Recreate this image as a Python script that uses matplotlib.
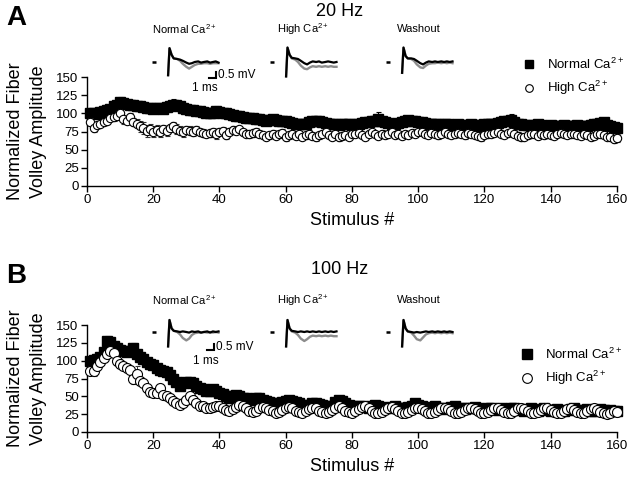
import numpy as np
import matplotlib
matplotlib.use("Agg")
import matplotlib.pyplot as plt
from matplotlib.lines import Line2D

plt.rcParams["font.family"] = ["Liberation Sans", "DejaVu Sans"]
plt.rcParams["mathtext.fontset"] = "custom"
plt.rcParams["mathtext.rm"] = "Liberation Sans"
plt.rcParams["mathtext.it"] = "Liberation Sans:italic"

# ---- data: normalized fiber volley amplitude, stimulus 1..160 ----
stim = np.arange(1, 161)

a_normal = [
    100, 101, 99, 102, 103, 104, 106, 110, 112, 115, 114, 113, 112, 111, 110, 110,
    109, 108, 107, 106, 107, 108, 106, 109, 110, 112, 111, 110, 108, 106, 105, 104,
    103, 103, 102, 101, 100, 100, 103, 102, 101, 100, 99, 98, 97, 96, 95, 94,
    94, 93, 92, 92, 91, 90, 91, 92, 91, 90, 90, 89, 88, 87, 86, 86,
    85, 86, 88, 89, 90, 89, 88, 87, 86, 86, 85, 84, 85, 86, 85, 84,
    85, 86, 87, 88, 88, 89, 90, 92, 89, 88, 87, 86, 86, 87, 88, 90,
    91, 90, 89, 88, 88, 87, 86, 86, 85, 85, 84, 85, 85, 84, 84, 85,
    84, 83, 84, 85, 84, 83, 84, 85, 86, 85, 86, 87, 88, 89, 90, 91,
    88, 86, 85, 84, 84, 83, 84, 85, 84, 83, 83, 84, 83, 82, 83, 84,
    83, 82, 83, 84, 83, 82, 83, 84, 85, 86, 87, 88, 84, 82, 81, 80]
a_normal_err = [
    3, 3, 3, 3, 3, 4, 4, 5, 5, 8, 5, 4, 4, 3, 3, 3,
    3, 3, 3, 3, 3, 3, 3, 4, 5, 8, 6, 4, 3, 3, 3, 3,
    3, 3, 3, 3, 3, 4, 7, 5, 3, 3, 3, 3, 3, 3, 3, 3,
    3, 3, 3, 3, 3, 3, 3, 4, 5, 3, 3, 3, 3, 3, 3, 3,
    3, 3, 3, 3, 4, 3, 3, 3, 3, 3, 3, 3, 3, 3, 3, 3,
    3, 3, 3, 3, 3, 4, 5, 10, 4, 3, 3, 3, 3, 3, 3, 4,
    3, 3, 3, 3, 3, 3, 3, 3, 3, 3, 3, 3, 3, 3, 3, 3,
    3, 3, 3, 3, 3, 3, 3, 3, 3, 3, 3, 4, 5, 4, 6, 8,
    4, 3, 3, 3, 3, 3, 3, 3, 3, 3, 3, 3, 3, 3, 3, 3,
    3, 3, 3, 3, 3, 3, 3, 3, 3, 4, 5, 6, 4, 3, 3, 3]

a_high = [
    88, 80, 84, 86, 88, 90, 93, 95, 97, 100, 92, 90, 95, 88, 86, 82,
    80, 76, 78, 75, 77, 74, 78, 76, 80, 82, 78, 76, 74, 77, 76, 75,
    77, 74, 73, 72, 73, 74, 71, 75, 76, 70, 75, 77, 76, 78, 74, 72,
    71, 73, 75, 72, 70, 68, 70, 72, 69, 71, 73, 68, 70, 72, 69, 71,
    68, 70, 72, 69, 67, 70, 72, 74, 70, 68, 71, 67, 69, 70, 68, 72,
    71, 73, 70, 68, 72, 74, 71, 69, 72, 70, 72, 74, 70, 71, 69, 72,
    70, 73, 71, 75, 74, 72, 70, 73, 71, 70, 72, 74, 71, 70, 72, 73,
    71, 70, 73, 72, 70, 69, 67, 70, 71, 72, 73, 74, 72, 70, 73, 75,
    72, 69, 67, 68, 70, 72, 71, 69, 71, 70, 72, 70, 69, 71, 73, 72,
    70, 71, 72, 70, 69, 71, 70, 68, 69, 71, 72, 70, 68, 67, 64, 66]
a_high_err = [
    5, 5, 4, 4, 4, 4, 4, 5, 5, 5, 6, 5, 5, 6, 6, 7,
    8, 8, 7, 8, 7, 6, 6, 7, 6, 6, 7, 6, 6, 6, 6, 6,
    6, 5, 5, 5, 6, 6, 6, 5, 5, 5, 5, 5, 5, 4, 5, 5,
    5, 5, 5, 5, 5, 5, 5, 5, 5, 5, 5, 6, 5, 5, 5, 5,
    5, 5, 5, 5, 5, 5, 5, 5, 4, 4, 5, 5, 5, 5, 4, 4,
    4, 4, 4, 5, 5, 4, 4, 5, 5, 4, 4, 4, 4, 4, 5, 4,
    4, 4, 4, 4, 4, 4, 4, 4, 4, 5, 4, 4, 4, 4, 4, 4,
    4, 5, 4, 4, 4, 5, 5, 4, 4, 4, 4, 4, 4, 4, 4, 4,
    5, 5, 5, 4, 4, 4, 4, 4, 4, 4, 4, 4, 4, 4, 4, 4,
    4, 4, 4, 4, 4, 4, 4, 5, 5, 4, 4, 4, 4, 5, 5, 5]

b_normal = [
    100, 101, 103, 105, 112, 128, 126, 121, 118, 115, 113, 112, 114, 118, 110, 105,
    102, 98, 96, 94, 90, 87, 86, 84, 80, 75, 70, 65, 68, 70, 70, 68,
    65, 62, 60, 58, 57, 60, 58, 55, 53, 50, 48, 50, 52, 50, 48, 47,
    46, 45, 48, 47, 45, 44, 42, 40, 38, 40, 42, 44, 45, 44, 42, 40,
    38, 36, 38, 41, 40, 39, 38, 36, 35, 37, 42, 45, 44, 40, 38, 36,
    35, 36, 37, 35, 34, 36, 38, 37, 35, 34, 33, 35, 36, 34, 33, 34,
    35, 37, 40, 38, 36, 34, 33, 35, 36, 34, 33, 32, 34, 35, 36, 34,
    33, 32, 33, 34, 35, 33, 32, 31, 33, 34, 32, 31, 33, 32, 31, 33,
    34, 32, 31, 30, 32, 33, 31, 30, 32, 33, 31, 30, 31, 32, 30, 29,
    31, 32, 33, 31, 30, 31, 32, 30, 29, 31, 32, 31, 30, 31, 30, 30]
b_normal_err = [
    3, 3, 3, 3, 4, 6, 4, 3, 3, 3, 3, 3, 4, 7, 4, 3,
    3, 3, 3, 3, 3, 3, 3, 3, 3, 3, 3, 3, 3, 3, 3, 3,
    3, 3, 3, 3, 3, 3, 3, 3, 3, 3, 3, 3, 3, 3, 3, 3,
    3, 3, 3, 3, 3, 3, 3, 3, 3, 3, 3, 3, 3, 3, 3, 3,
    3, 3, 3, 3, 3, 3, 3, 3, 3, 3, 3, 3, 3, 3, 3, 3,
    3, 3, 3, 3, 3, 3, 3, 3, 3, 3, 3, 3, 3, 3, 3, 3,
    3, 3, 3, 3, 3, 3, 3, 3, 3, 3, 3, 3, 3, 3, 3, 3,
    3, 3, 3, 3, 3, 3, 3, 3, 3, 3, 3, 3, 3, 3, 3, 3,
    3, 3, 3, 3, 3, 3, 3, 3, 3, 3, 3, 3, 3, 3, 3, 3,
    3, 3, 3, 3, 3, 3, 3, 3, 3, 3, 3, 3, 3, 3, 3, 3]

b_high = [
    86, 85, 92, 98, 104, 110, 114, 111, 100, 96, 92, 90, 87, 75, 82, 72,
    68, 61, 56, 55, 54, 61, 52, 50, 47, 43, 40, 38, 40, 45, 50, 45,
    40, 37, 36, 34, 33, 35, 37, 36, 34, 31, 30, 32, 35, 38, 36, 33,
    30, 28, 30, 33, 35, 34, 31, 29, 27, 28, 31, 33, 35, 33, 30, 28,
    27, 29, 32, 34, 33, 30, 28, 26, 28, 31, 34, 36, 33, 30, 28, 27,
    29, 32, 35, 36, 33, 30, 27, 26, 28, 31, 34, 35, 32, 29, 27, 26,
    28, 31, 33, 34, 32, 29, 27, 26, 28, 31, 33, 34, 32, 29, 27, 26,
    28, 31, 33, 34, 32, 29, 27, 26, 28, 31, 33, 34, 31, 28, 26, 27,
    30, 33, 34, 32, 29, 27, 26, 28, 31, 33, 34, 31, 28, 26, 27, 30,
    32, 33, 31, 28, 26, 27, 29, 32, 33, 31, 28, 26, 25, 27, 29, 28]
b_high_err = [
    6, 6, 5, 5, 4, 4, 4, 4, 4, 5, 5, 5, 6, 8, 10, 5,
    5, 5, 4, 4, 4, 6, 4, 4, 4, 4, 4, 4, 4, 4, 4, 4,
    4, 4, 4, 4, 4, 4, 4, 4, 4, 4, 4, 4, 4, 4, 4, 4,
    4, 4, 4, 4, 4, 4, 4, 4, 4, 4, 4, 4, 4, 4, 4, 4,
    4, 4, 4, 4, 4, 4, 4, 4, 4, 4, 4, 4, 4, 4, 4, 4,
    4, 4, 4, 4, 4, 4, 4, 4, 4, 4, 4, 4, 4, 4, 4, 4,
    4, 4, 4, 4, 4, 4, 4, 4, 4, 4, 4, 4, 4, 4, 4, 4,
    4, 4, 4, 4, 4, 4, 4, 4, 4, 4, 4, 4, 4, 4, 4, 4,
    4, 4, 4, 4, 4, 4, 4, 4, 4, 4, 4, 4, 4, 4, 4, 4,
    4, 4, 4, 4, 4, 4, 4, 4, 4, 4, 4, 4, 4, 4, 4, 4]

# ---- example fiber volley traces (ms, mV) ----
dash_t = [0.0, 0.6]
dash_v = [0.0, 0.0]
trace_t = [2.3, 2.5, 2.8, 3.1, 3.6, 4.0, 4.4, 4.9, 5.3, 5.7,
           6.1, 6.6, 7.0, 7.4, 7.9, 8.3, 8.7, 9.1, 9.5]
trace_labels = ["Normal Ca$^{2+}$", "High Ca$^{2+}$", "Washout"]
a_traces = [
    ([-1.1, 1.15, 0.6, 0.3, 0.25, 0.2, 0.1, -0.05, -0.15, -0.1, 0.0, 0.05, -0.05, 0.0, 0.05, -0.05, 0.0, 0.05, -0.05],
     [-1.1, 1.15, 0.6, 0.3, 0.25, 0.1, -0.15, -0.4, -0.55, -0.4, -0.25, -0.15, -0.15, -0.1, -0.1, -0.15, -0.1, -0.1, -0.1]),
    ([-1.2, 1.2, 0.6, 0.35, 0.3, 0.25, 0.1, -0.1, -0.2, -0.05, 0.05, 0.0, 0.05, -0.05, 0.0, 0.05, 0.0, -0.05, 0.0],
     [-1.2, 1.2, 0.6, 0.3, 0.2, 0.0, -0.3, -0.55, -0.6, -0.45, -0.35, -0.4, -0.35, -0.4, -0.35, -0.4, -0.35, -0.4, -0.4]),
    ([-0.9, 1.2, 0.5, 0.3, 0.3, 0.25, 0.1, -0.1, -0.2, -0.05, 0.05, 0.0, 0.05, 0.0, 0.05, 0.0, 0.05, 0.0, 0.05],
     [-0.9, 1.2, 0.5, 0.3, 0.25, 0.1, -0.2, -0.45, -0.5, -0.3, -0.15, -0.1, -0.1, -0.05, -0.1, -0.05, -0.1, -0.05, -0.1]),
]
b_traces = [
    ([-1.2, 1.0, 0.3, 0.1, 0.05, 0.0, 0.05, 0.0, -0.05, 0.05, 0.0, 0.05, -0.05, 0.0, 0.05, -0.05, 0.05, 0.0, 0.05],
     [-1.2, 1.0, 0.3, 0.1, 0.0, -0.2, -0.5, -0.7, -0.55, -0.25, -0.1, -0.05, -0.05, 0.0, -0.05, 0.0, -0.05, 0.0, -0.05]),
    ([-1.2, 1.0, 0.3, 0.1, 0.05, 0.0, 0.05, 0.0, 0.05, 0.0, 0.05, 0.0, 0.05, 0.0, 0.05, 0.0, 0.05, 0.0, 0.05],
     [-1.2, 1.0, 0.3, 0.05, -0.05, -0.25, -0.55, -0.75, -0.6, -0.4, -0.3, -0.35, -0.3, -0.35, -0.3, -0.35, -0.3, -0.35, -0.35]),
    ([-1.2, 1.0, 0.3, 0.05, 0.0, -0.05, 0.0, -0.05, 0.0, 0.05, 0.0, 0.05, 0.0, 0.05, 0.0, 0.05, 0.0, 0.05, 0.0],
     [-1.2, 1.0, 0.3, 0.05, -0.05, -0.3, -0.6, -0.7, -0.45, -0.2, -0.1, -0.05, -0.1, -0.05, -0.1, -0.05, -0.1, -0.05, -0.1]),
]

W, H = 630, 482


def fx(px):
    return px / W


def fy(py):
    return 1 - py / H


fig = plt.figure(figsize=(6.3, 4.82), dpi=100)


def panel(top, bottom, normal, normal_err, high, high_err, ms_sq, ms_ci):
    ax = fig.add_axes([fx(87), fy(bottom), fx(617) - fx(87), fy(top) - fy(bottom)])
    ax.errorbar(stim, normal, yerr=normal_err, fmt="s", color="black", ms=ms_sq,
                mfc="black", mec="black", ecolor="black", elinewidth=0.8,
                capsize=1.8, capthick=0.8, zorder=2, clip_on=False)
    ax.errorbar(stim, high, yerr=high_err, fmt="o", color="black", ms=ms_ci,
                mfc="white", mec="black", mew=0.8, ecolor="#333333", elinewidth=0.7,
                capsize=1.8, capthick=0.7, zorder=3, clip_on=False)
    ax.set_xlim(0, 160)
    ax.set_ylim(0, 150)
    ax.set_xticks(range(0, 161, 20))
    ax.set_yticks(range(0, 151, 25))
    for s in ["top", "right"]:
        ax.spines[s].set_visible(False)
    for s in ["left", "bottom"]:
        ax.spines[s].set_linewidth(1.0)
    ax.tick_params(direction="out", length=4, width=1.0, labelsize=9.5, pad=2)
    ax.set_xlabel("Stimulus #", fontsize=13, labelpad=4)
    fig.text(fx(27), fy((top + bottom) / 2), "Normalized Fiber\nVolley Amplitude",
             rotation=90, ha="center", va="center", fontsize=13, linespacing=1.45,
             multialignment="center")
    return ax


def traces(sets, y0, label_y, bar_corner, ms_pos):
    for i, (left, (blk, gry)) in enumerate(zip([152, 270, 386], sets)):
        ia = fig.add_axes([fx(left - 2.1), fy(y0 + 24), 70 / W, 48 / H])
        ia.set_xlim(-0.3, 9.7)
        ia.set_ylim(-2, 2)
        ia.axis("off")
        ia.plot(dash_t, dash_v, color="black", lw=1.8, solid_capstyle="butt")
        ia.plot(trace_t, gry, color="#8c8c8c", lw=1.7)
        ia.plot(trace_t, blk, color="black", lw=1.6)
        fig.text(fx(left + 33), fy(label_y), trace_labels[i], ha="center",
                 va="center", fontsize=8)
        if i == 0:
            tc, vc = bar_corner
            ia.plot([tc - 1, tc, tc], [vc, vc, vc + 0.5], color="black", lw=1.5,
                    clip_on=False, solid_joinstyle="miter")
            ia.text(tc + 0.35, vc + 0.25, "0.5 mV", ha="left", va="center",
                    fontsize=8.5, clip_on=False)
            ia.text(ms_pos[0], ms_pos[1], "1 ms", ha="center", va="center",
                    fontsize=8.5, clip_on=False)


def legend(ax, x, y, ms_sq, ms_ci):
    handles = [
        Line2D([], [], ls="none", marker="s", ms=ms_sq, mfc="black", mec="black"),
        Line2D([], [], ls="none", marker="o", ms=ms_ci, mfc="white", mec="black", mew=0.8),
    ]
    ax.legend(handles, ["Normal Ca$^{2+}$", "High Ca$^{2+}$"], loc="center left",
              bbox_to_anchor=(fx(x), fy(y)), bbox_transform=fig.transFigure,
              frameon=False, fontsize=9.5, handlelength=1.0, handletextpad=0.9,
              labelspacing=0.55, borderpad=0, borderaxespad=0)


# panel A, 20 Hz
ax_a = panel(77, 186, a_normal, a_normal_err, a_high, a_high_err, 7.0, 6.0)
traces(a_traces, 62, 29, (9.14, -1.33), (7.6, -2.17))
legend(ax_a, 522, 77, 5.5, 5.5)
fig.text(fx(340), fy(11), "20 Hz", ha="center", va="center", fontsize=13)
fig.text(fx(6), fy(18), "A", ha="left", va="center", fontsize=20, fontweight="bold")

# panel B, 100 Hz
ax_b = panel(325, 432, b_normal, b_normal_err, b_high, b_high_err, 7.2, 7.2)
traces(b_traces, 332, 300, (8.86, -1.5), (7.7, -2.4))
legend(ax_b, 520, 367, 6.5, 7.0)
fig.text(fx(340), fy(269), "100 Hz", ha="center", va="center", fontsize=13)
fig.text(fx(6), fy(276), "B", ha="left", va="center", fontsize=20, fontweight="bold")

fig.savefig("out.png", dpi=100)
